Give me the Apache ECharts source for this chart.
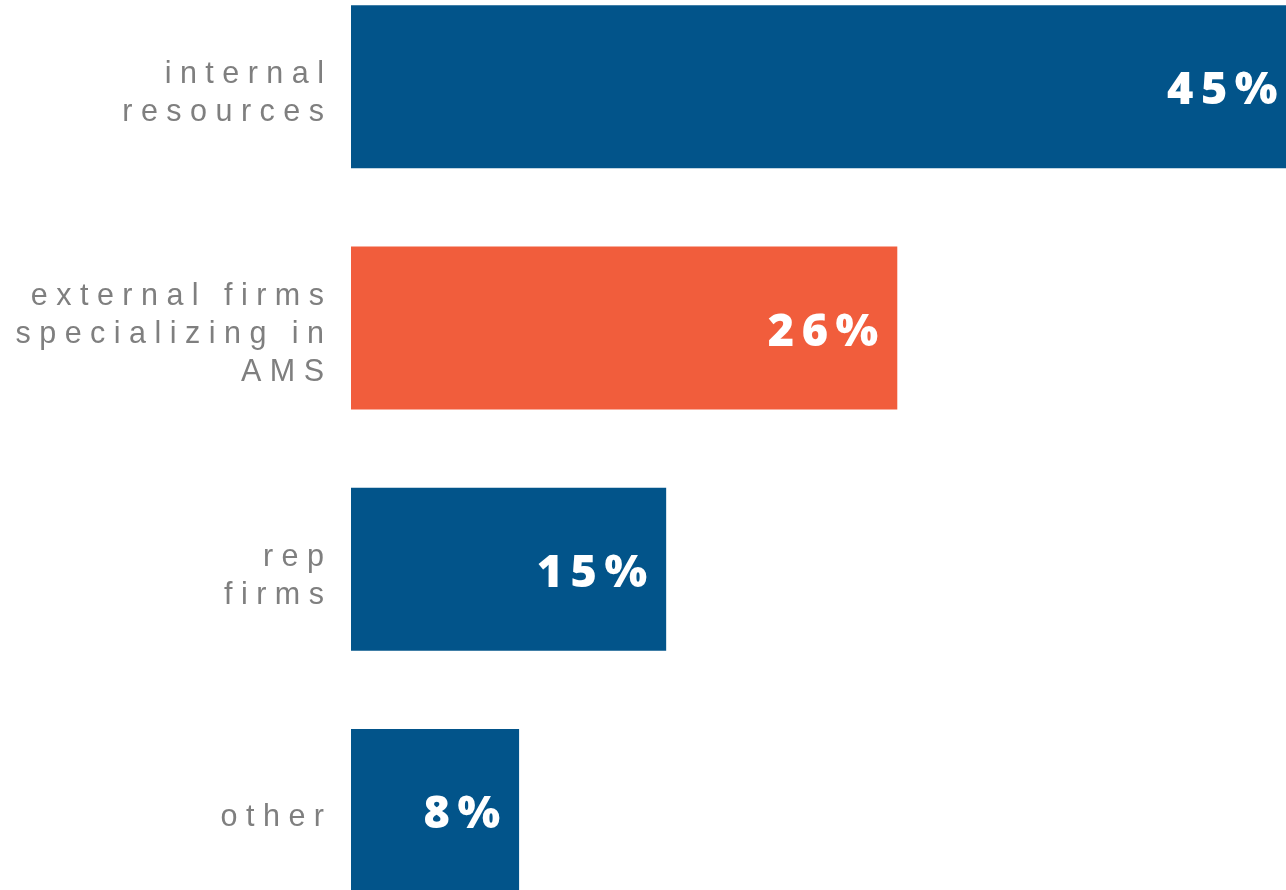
<!DOCTYPE html>
<html>
<head>
<meta charset="utf-8">
<style>
  html, body { margin: 0; padding: 0; background: #ffffff; }
  #chart { width: 1286px; height: 890px; }
</style>
<script src="https://cdn.jsdelivr.net/npm/echarts@6/dist/echarts.min.js"></script>
</head>
<body>
<div id="chart"></div>
<script>
// Where the work is done: share of respondents by resource type
const categories = [
  'internal\nresources',
  'external firms\nspecializing in\nAMS',
  'rep\nfirms',
  'other'
];
const shares = [45, 26, 15, 8];
const barColors = ['#02548a', '#f15d3c', '#02548a', '#02548a'];

// Spread letters apart for the airy category typography
function spaced(text, gap, wordGap) {
  return text.split(' ').map(w => w.split('').join(gap)).join(wordGap);
}

const chart = echarts.init(document.getElementById('chart'), null, { renderer: 'canvas' });

chart.setOption({
  animation: false,
  backgroundColor: '#ffffff',
  grid: {
    left: 351, right: 0, top: -34, bottom: -41,
    containLabel: false,
    outerBoundsMode: 'none'
  },
  xAxis: {
    type: 'value',
    min: 0,
    max: 44.5,
    show: false
  },
  yAxis: {
    type: 'category',
    inverse: true,
    data: categories,
    axisLine: { show: false },
    axisTick: { show: false },
    splitLine: { show: false },
    axisLabel: {
      margin: 27,
      color: '#7f7f7f',
      fontFamily: 'Liberation Sans',
      fontSize: 30.5,
      lineHeight: 38,
      // a short spacer line nudges each label block a little below the bar centre
      formatter: v => '{gap| }\n' + v.split('\n').map(l => '{t|' + spaced(l, ' ', '   ') + '}').join('\n'),
      rich: {
        gap: { fontSize: 10, lineHeight: 14 },
        t: {
          color: '#7f7f7f',
          fontFamily: 'Liberation Sans',
          fontSize: 30.5,
          lineHeight: 38,
          align: 'right'
        }
      }
    }
  },
  series: [{
    type: 'bar',
    barWidth: 163,
    clip: false,
    data: shares.map((v, i) => ({ value: v, itemStyle: { color: barColors[i] } })),
    label: {
      show: true,
      position: 'insideRight',
      distance: 19,
      offset: [0, 5],
      color: '#ffffff',
      fontFamily: 'Open Sans',
      fontWeight: 800,
      fontSize: 45,
      formatter: p => (p.value + '%').split('').join('\u2006')
    }
  }]
});
</script>
</body>
</html>
